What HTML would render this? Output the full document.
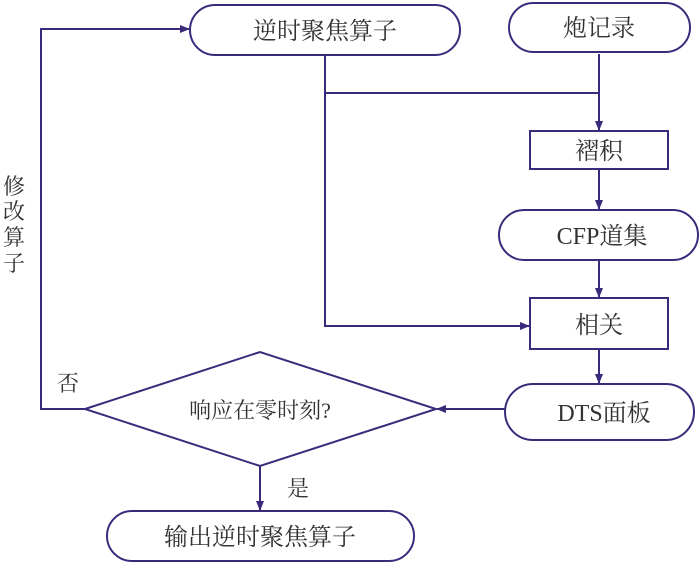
<!DOCTYPE html>
<html><head><meta charset="utf-8"><style>
html,body{margin:0;padding:0;background:#fff;}
svg text{font-family:"Liberation Serif","Noto Serif CJK SC",serif;fill:#333;}
</style></head><body>
<svg width="700" height="563" viewBox="0 0 700 563" xmlns="http://www.w3.org/2000/svg">
<defs><marker id="a" markerWidth="10" markerHeight="10" refX="9" refY="5" orient="auto" markerUnits="userSpaceOnUse"><path d="M0,1 L10,5 L0,9 Z" fill="#3b2a7c"/></marker></defs>
<g stroke="#3b2a7c" stroke-width="2" fill="none">
<rect x="190" y="5" width="270" height="50" rx="25"/>
<rect x="509" y="3" width="181" height="49" rx="24.5"/>
<rect x="530" y="131" width="138" height="38"/>
<rect x="499" y="210" width="199" height="50" rx="25"/>
<rect x="530" y="298" width="138" height="51"/>
<rect x="505" y="384" width="189" height="56" rx="28"/>
<polygon points="85,409 260,352 436,409 260,466"/>
<rect x="107" y="511" width="307" height="50" rx="25"/>
<polyline points="325,55 325,326 529,326" marker-end="url(#a)"/>
<line x1="325" y1="93" x2="599" y2="93"/>
<line x1="599" y1="54" x2="599" y2="130" marker-end="url(#a)"/>
<line x1="599" y1="169" x2="599" y2="209" marker-end="url(#a)"/>
<line x1="599" y1="260" x2="599" y2="297" marker-end="url(#a)"/>
<line x1="599" y1="349" x2="599" y2="383" marker-end="url(#a)"/>
<line x1="505" y1="409" x2="437" y2="409" marker-end="url(#a)"/>
<polyline points="85,409 41,409 41,29 189,29" marker-end="url(#a)"/>
<line x1="260" y1="466" x2="260" y2="510" marker-end="url(#a)"/>
</g>
<g font-size="24" text-anchor="middle">
<text x="325" y="39">逆时聚焦算子</text>
<text x="599" y="36">炮记录</text>
<text x="599" y="159">褶积</text>
<text x="602" y="244">CFP道集</text>
<text x="599" y="333">相关</text>
<text x="604" y="421">DTS面板</text>
<text x="260" y="418" font-size="22">响应在零时刻?</text>
<text x="260" y="545">输出逆时聚焦算子</text>
<text x="68" y="391" font-size="22">否</text>
<text x="298" y="496" font-size="22">是</text>
<text x="14" y="194" font-size="22">修</text>
<text x="14" y="219" font-size="22">改</text>
<text x="14" y="245" font-size="22">算</text>
<text x="14" y="271" font-size="22">子</text>
</g>
</svg>
</body></html>
